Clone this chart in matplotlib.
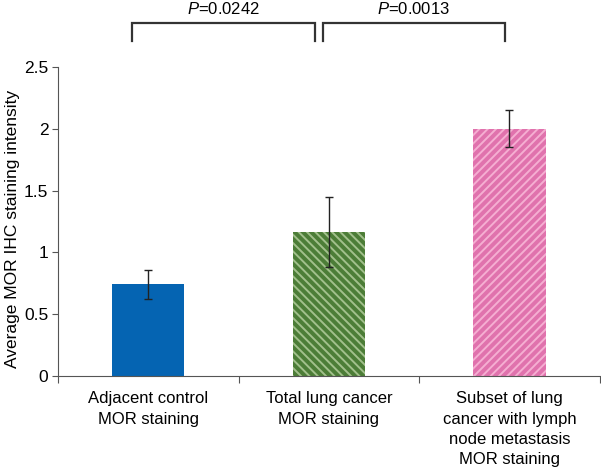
import matplotlib
matplotlib.use('Agg')
import matplotlib.pyplot as plt
import numpy as np

plt.rcParams['font.family'] = ['Liberation Sans', 'DejaVu Sans']
plt.rcParams['mathtext.fontset'] = 'custom'
plt.rcParams['mathtext.it'] = 'Liberation Sans:italic'
plt.rcParams['mathtext.rm'] = 'Liberation Sans'
plt.rcParams['hatch.linewidth'] = 1.4

# 数据
categories = ['Adjacent control\nMOR staining',
              'Total lung cancer\nMOR staining',
              'Subset of lung\ncancer with lymph\nnode metastasis\nMOR staining']
means = [0.74, 1.165, 2.0]
errors = [0.12, 0.28, 0.15]
face_colors = ['#0564b2', '#4c7d37', '#e072ad']
stripe_colors = ['#0564b2', '#a2c08c', '#f5aed2']
hatches = [None, '\\\\\\\\', '////']
p_labels = ['0.0242', '0.0013']

fig = plt.figure(figsize=(6.01, 4.67), dpi=100)
ax = fig.add_axes([0.0965, 0.195, 0.9015, 0.6615])

x = np.arange(len(categories))
for i in range(len(categories)):
    ax.bar(x[i], means[i], width=0.4, color=face_colors[i],
           edgecolor=stripe_colors[i], linewidth=0, hatch=hatches[i], zorder=2)
ax.errorbar(x, means, yerr=errors, fmt='none', ecolor='#222222',
            elinewidth=1, capsize=3, capthick=1, zorder=3)

ax.set_xlim(-0.5, 2.5)
ax.set_ylim(0, 2.5)
ax.set_yticks([0, 0.5, 1, 1.5, 2, 2.5])
ax.set_yticklabels(['0', '0.5', '1', '1.5', '2', '2.5'])
ax.set_xticks([-0.5, 0.5, 1.5, 2.5])
ax.set_xticklabels([])
ax.set_xticks(x, minor=True)
ax.set_xticklabels(categories, minor=True, fontsize=12, linespacing=1.45)
ax.tick_params(axis='x', which='minor', length=0, pad=11)
ax.tick_params(axis='x', which='major', length=5, color='#555555')
ax.tick_params(axis='y', length=4, color='#555555', labelsize=12.5, pad=3)
ax.set_ylabel('Average MOR IHC staining intensity', fontsize=12.5)
ax.yaxis.set_label_coords(-0.07, 0.477)

for s in ['top', 'right']:
    ax.spines[s].set_visible(False)
for s in ['left', 'bottom']:
    ax.spines[s].set_color('#555555')

# 显著性括号
brackets = [(-0.09, 0.925), (0.965, 1.975)]
for (x0, x1), p in zip(brackets, p_labels):
    ax.plot([x0, x0, x1, x1], [2.71, 2.855, 2.855, 2.71], color='#333333',
            lw=1.6, clip_on=False, solid_joinstyle='miter')
    ax.text((x0 + x1) / 2, 2.97, '$P$=' + p, ha='center', va='center',
            fontsize=12)

fig.savefig('out.png', dpi=100)
